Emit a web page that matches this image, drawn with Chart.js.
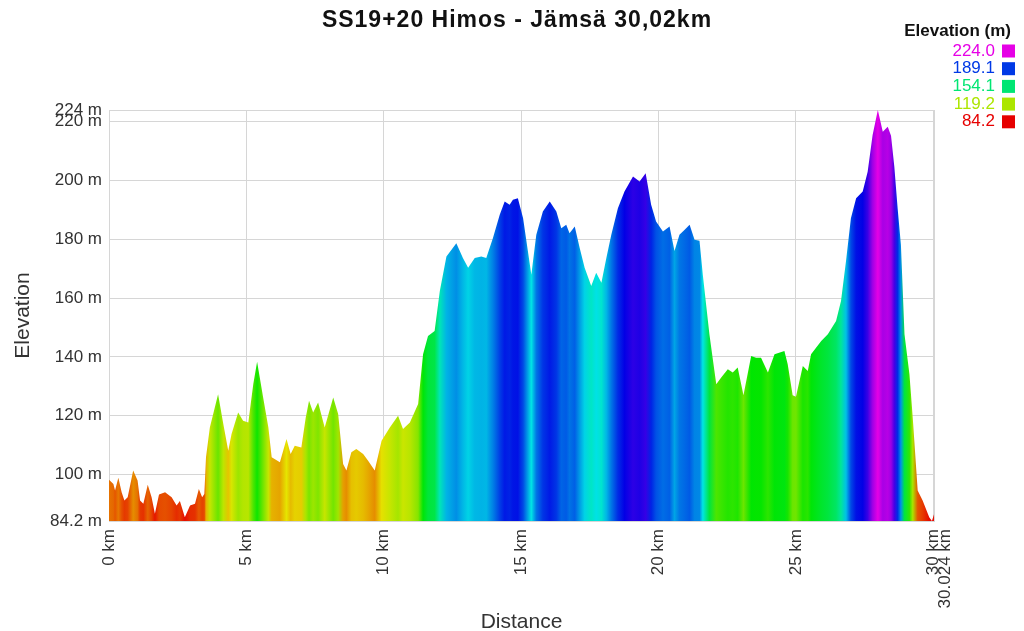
<!DOCTYPE html>
<html>
<head>
<meta charset="utf-8">
<title>SS19+20 Himos - Jämsä</title>
<script src="https://cdn.jsdelivr.net/npm/chart.js@4.4.1/dist/chart.umd.min.js"></script>
<style>
    body { margin: 0; background: #fff; }
    canvas { display: block; }
</style>
</head>
<body>
<canvas id="profile" width="1024" height="631"></canvas>
<script>
// Distance along the stage (km) and elevation (m)
const distanceKm = [
    0, 0.16, 0.22, 0.34, 0.46, 0.56, 0.68, 0.88, 1.04, 1.13, 1.25, 1.41, 1.55, 1.67, 1.82,
    2.04, 2.28, 2.46, 2.58, 2.76, 2.95, 3.13, 3.27, 3.39, 3.47, 3.53, 3.67, 3.97, 4.16, 4.34,
    4.46, 4.7, 4.88, 5.07, 5.25, 5.39, 5.61, 5.8, 5.92, 6.22, 6.46, 6.61, 6.76, 7.0, 7.16,
    7.28, 7.43, 7.61, 7.85, 8.16, 8.34, 8.52, 8.64, 8.82, 9.0, 9.25, 9.43, 9.67, 9.92, 10.22,
    10.52, 10.7, 10.95, 11.25, 11.43, 11.61, 11.85, 12.04, 12.28, 12.64, 12.88, 13.07, 13.31, 13.55, 13.73,
    13.97, 14.22, 14.4, 14.58, 14.7, 14.88, 15.07, 15.37, 15.55, 15.79, 16.04, 16.28, 16.46, 16.64, 16.76,
    16.95, 17.13, 17.31, 17.55, 17.73, 17.92, 18.1, 18.28, 18.52, 18.76, 19.07, 19.31, 19.53, 19.73, 19.91,
    20.16, 20.4, 20.58, 20.76, 20.95, 21.13, 21.31, 21.49, 21.61, 21.85, 22.1, 22.28, 22.52, 22.7, 22.88,
    23.09, 23.37, 23.55, 23.73, 23.98, 24.22, 24.58, 24.7, 24.88, 25.0, 25.25, 25.43, 25.55, 25.92, 26.16,
    26.46, 26.64, 26.82, 27.0, 27.19, 27.43, 27.61, 27.79, 27.98, 28.16, 28.34, 28.46, 28.58, 28.7, 28.82,
    28.95, 29.13, 29.25, 29.43, 29.61, 29.85, 29.95, 30.024
];
const elevationM = [
    98.2, 96.8, 94.6, 98.9, 94, 91.2, 92.3, 101.4, 98, 91.2, 90.1, 96.5, 92.3, 86.7, 93.2,
    94, 92.3, 89.5, 91, 85.5, 89.5, 90.1, 95.1, 92.3, 93.4, 105.9, 116, 127.3, 117.2, 108.1,
    113.8, 121.1, 118.3, 117.7, 130.7, 138.4, 126.2, 116, 105.9, 104.2, 112.1, 107, 109.8, 109.2, 119.4,
    125.1, 121.1, 124.5, 116, 126.2, 120.6, 103.6, 101.4, 107.6, 108.7, 107, 104.7, 101.4, 111.5, 116,
    120, 115.5, 117.7, 124, 140.9, 147.1, 148.8, 162.4, 174.2, 178.7, 173.7, 170.3, 173.7, 174.2, 173.7,
    180.4, 188.4, 192.9, 191.8, 193.5, 194, 187.2, 168, 181.6, 189.5, 192.9, 189.5, 183.8, 185, 182.1,
    184.4, 177.1, 170.3, 164.1, 168.6, 165.2, 173.7, 181.6, 190.6, 196.3, 201.4, 199.7, 202.5, 191.8, 186.1,
    182.7, 184.4, 176, 181.6, 183.3, 185, 179.9, 179.5, 168, 147.7, 130.7, 133, 135.8, 134.7, 136.4,
    127, 140.3, 139.7, 139.7, 134.7, 140.9, 142, 137.5, 127, 126.5, 136.9, 135.2, 140.9, 145.4, 147.7,
    152.2, 159, 172.5, 187.2, 194, 196.3, 203, 215.5, 224, 216.6, 218.3, 215.2, 204.7, 190.6, 178.2,
    147.7, 134.1, 119.4, 94.6, 91.2, 85.5, 84.2, 86.5
];
const xTickValues = [0, 5, 10, 15, 20, 25, 30, 30.024];
const yTickValues = [84.2, 100, 120, 140, 160, 180, 200, 220, 224];
const legendValues = [224.0, 189.1, 154.1, 119.2, 84.2];

const minElev = 84.2;
const maxElev = 224;

// red (low) -> magenta (high), same ramp as the legend
function elevColor(v) {
    const t = Math.max(0, Math.min(1, (v - minElev) / (maxElev - minElev)));
    return 'hsl(' + (300 * t).toFixed(1) + ', 100%, 45%)';
}

// horizontal gradient, one stop per point coloured by its elevation
function fillGradient(context) {
    const chart = context.chart;
    const area = chart.chartArea;
    const xScale = chart.scales.x;
    if (!area || !xScale) return elevColor(150);
    const g = chart.ctx.createLinearGradient(area.left, 0, area.right, 0);
    const w = area.right - area.left;
    distanceKm.forEach(function (d, i) {
        let pos = (xScale.getPixelForValue(d) - area.left) / w;
        pos = Math.max(0, Math.min(1, pos));
        g.addColorStop(pos, elevColor(elevationM[i]));
    });
    return g;
}

const headerPlugin = {
    id: 'header',
    afterDraw(chart) {
        const ctx = chart.ctx;
        ctx.save();
        // title
        ctx.fillStyle = '#111';
        ctx.font = 'bold 23px "Liberation Sans", Arial, sans-serif';
        ctx.textAlign = 'center';
        ctx.textBaseline = 'alphabetic';
        if ('letterSpacing' in ctx) ctx.letterSpacing = '1px';
        ctx.fillText('SS19+20 Himos - Jämsä 30,02km', 517, 27);
        if ('letterSpacing' in ctx) ctx.letterSpacing = '0px';

        // colour legend
        ctx.font = 'bold 17px "Liberation Sans", Arial, sans-serif';
        ctx.textAlign = 'right';
        ctx.textBaseline = 'middle';
        ctx.fillText('Elevation (m)', 1011, 31);
        ctx.font = '17px "Liberation Sans", Arial, sans-serif';
        legendValues.forEach(function (v, i) {
            const y = 51 + i * 17.7;
            ctx.fillStyle = elevColor(v);
            ctx.fillText(v.toFixed(1), 995, y);
            ctx.fillRect(1002, y - 6.5, 13, 13);
        });
        ctx.restore();
    }
};

const points = distanceKm.map(function (d, i) {
    return { x: d, y: elevationM[i] };
});

new Chart(document.getElementById('profile'), {
    type: 'line',
    data: {
        datasets: [{
            label: 'Elevation',
            data: points,
            fill: 'start',
            backgroundColor: fillGradient,
            borderColor: 'rgba(0,0,0,0)',
            borderWidth: 0,
            pointRadius: 0,
            tension: 0
        }]
    },
    options: {
        responsive: false,
        animation: false,
        layout: { padding: { top: 110, right: 90, left: 0, bottom: 0 } },
        plugins: {
            legend: { display: false },
            tooltip: { enabled: false }
        },
        scales: {
            x: {
                type: 'linear',
                min: 0,
                max: 30.024,
                afterBuildTicks: function (scale) {
                    scale.ticks = xTickValues.map(function (v) { return { value: v }; });
                },
                afterFit: function (scale) { scale.height = 110; },
                ticks: {
                    autoSkip: false,
                    maxRotation: 90,
                    minRotation: 90,
                    padding: 8,
                    color: '#333',
                    font: { family: '"Liberation Sans", Arial, sans-serif', size: 17, lineHeight: 0.68 },
                    callback: function (v) {
                        // 30 km and the end distance share one slot, side by side
                        if (v === 30.024) return '';
                        if (v === 30) return ['30 km', '30.024 km'];
                        return v + ' km';
                    }
                },
                grid: { color: '#d6d6d6', drawTicks: false },
                border: { color: '#d6d6d6' },
                title: {
                    display: true,
                    text: 'Distance',
                    color: '#333',
                    font: { family: '"Liberation Sans", Arial, sans-serif', size: 21 },
                    padding: { top: 0, bottom: -4 }
                }
            },
            y: {
                min: minElev,
                max: maxElev,
                afterBuildTicks: function (scale) {
                    scale.ticks = yTickValues.map(function (v) { return { value: v }; });
                },
                afterFit: function (scale) { scale.width = 109; },
                ticks: {
                    padding: 7,
                    color: '#333',
                    font: { family: '"Liberation Sans", Arial, sans-serif', size: 17 },
                    callback: function (v) { return v + ' m'; }
                },
                grid: { color: '#d6d6d6', drawTicks: false },
                border: { color: '#d6d6d6' },
                title: {
                    display: true,
                    text: 'Elevation',
                    color: '#333',
                    font: { family: '"Liberation Sans", Arial, sans-serif', size: 21 },
                    padding: { top: 11, bottom: 0 }
                }
            }
        }
    },
    plugins: [headerPlugin]
});
</script>
</body>
</html>
